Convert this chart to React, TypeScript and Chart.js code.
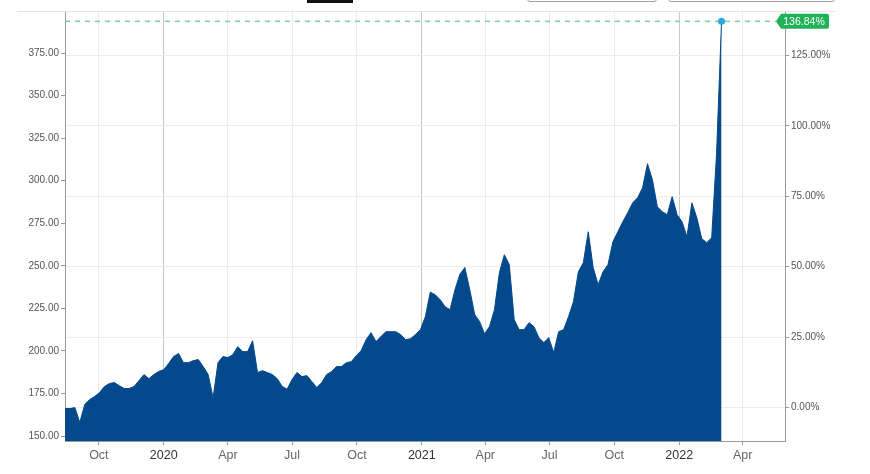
import React, { useEffect, useRef } from "react";
import { Chart, registerables } from "chart.js";

Chart.register(...registerables);

// Weekly closes, first week starting 2019-08-14
const weekStart = "2019-08-14";
const weeklyCloses: number[] = [
  166.2, 166.1, 166.7, 158.0, 168.5, 171.4, 173.2, 175.5, 179.1, 180.8,
  181.4, 179.6, 177.9, 177.9, 179.1, 182.6, 186.1, 183.7, 186.1, 187.9,
  189.0, 192.6, 196.7, 198.5, 193.1, 193.1, 194.3, 194.9, 190.8, 186.1,
  172.5, 193.1, 196.7, 196.1, 197.8, 202.5, 199.6, 199.6, 206.0, 187.3,
  188.4, 187.3, 186.1, 183.7, 179.1, 177.5, 183.2, 187.3, 184.9, 185.5,
  182.0, 178.5, 181.4, 186.1, 187.9, 190.8, 190.8, 193.1, 193.7, 197.2,
  200.2, 206.6, 210.7, 205.5, 208.4, 211.3, 211.3, 211.3, 209.6, 206.6,
  207.2, 209.6, 212.5, 220.1, 234.5, 233.0, 230.1, 226.0, 224.2, 236.0,
  245.0, 249.0, 236.0, 221.3, 217.2, 210.0, 214.3, 224.2, 246.0, 256.5,
  250.7, 218.4, 212.5, 212.5, 216.6, 214.3, 207.8, 204.9, 207.8, 199.0,
  211.3, 212.5, 220.1, 228.9, 246.5, 251.8, 270.0, 248.9, 238.9, 246.5,
  250.7, 264.2, 270.0, 275.9, 281.2, 287.0, 290.0, 295.8, 310.0, 300.5,
  284.7, 281.8, 280.0, 290.6, 280.0, 275.9, 267.1, 287.0, 278.2, 265.9,
  263.6, 266.5, 316.4, 393.63,
];

const xAxisStart = "2019-08-14";
const xAxisEnd = "2022-05-31";
const tickDates = [
  "2019-10-01", "2020-01-01", "2020-04-01", "2020-07-01", "2020-10-01",
  "2021-01-01", "2021-04-01", "2021-07-01", "2021-10-01", "2022-01-01",
  "2022-04-01",
];
const tickLabels = ["Oct", "2020", "Apr", "Jul", "Oct", "2021", "Apr", "Jul", "Oct", "2022", "Apr"];
const yearLabels = ["2020", "2021", "2022"];

const priceMin = 147.07;
const priceMax = 399.7;
const pctMin = -11.9;
const pctMax = 140.8;

const DAY = 86400000;
const dayOf = (s: string) => (Date.parse(s) - Date.parse(xAxisStart)) / DAY;

const FONT = '"Liberation Sans", Arial, Helvetica, sans-serif';

export default function App() {
  const ref = useRef<HTMLCanvasElement | null>(null);

  useEffect(() => {
    if (!ref.current) return;
    const startOffset = dayOf(weekStart);
    const points = weeklyCloses.map((v, i) => ({ x: startOffset + i * 7, y: v }));
    const tickValues = tickDates.map(dayOf);
    const labelFor = (v: number) => {
      const idx = tickValues.findIndex((t) => Math.abs(t - v) < 1e-6);
      return idx >= 0 ? tickLabels[idx] : "";
    };
    const isYear = (v: number) => yearLabels.includes(labelFor(v));
    const pct = (weeklyCloses[weeklyCloses.length - 1] / weeklyCloses[0] - 1) * 100;

    const lastMarker = {
      id: "lastMarker",
      beforeDatasetsDraw(chart: any) {
        const meta = chart.getDatasetMeta(0);
        const last = meta.data[meta.data.length - 1];
        const { ctx, chartArea } = chart;
        ctx.save();
        ctx.setLineDash([5, 5]);
        ctx.strokeStyle = "#86d0a0";
        ctx.lineWidth = 1.6;
        ctx.beginPath();
        ctx.moveTo(chartArea.left, last.y);
        ctx.lineTo(chartArea.right - 9, last.y);
        ctx.stroke();
        ctx.restore();
      },
      afterDatasetsDraw(chart: any) {
        const meta = chart.getDatasetMeta(0);
        const last = meta.data[meta.data.length - 1];
        const { ctx, chartArea } = chart;
        ctx.save();
        ctx.fillStyle = "#2aa8e0";
        ctx.beginPath();
        ctx.arc(last.x, last.y, 3.5, 0, Math.PI * 2);
        ctx.fill();
        // label
        const tipX = chartArea.right - 9;
        const boxL = tipX + 5;
        const boxR = boxL + 48;
        const top = last.y - 7.5;
        const bot = last.y + 7.5;
        const r = 2;
        ctx.fillStyle = "#1fb257";
        ctx.beginPath();
        ctx.moveTo(tipX, last.y);
        ctx.lineTo(boxL, top);
        ctx.lineTo(boxR - r, top);
        ctx.quadraticCurveTo(boxR, top, boxR, top + r);
        ctx.lineTo(boxR, bot - r);
        ctx.quadraticCurveTo(boxR, bot, boxR - r, bot);
        ctx.lineTo(boxL, bot);
        ctx.closePath();
        ctx.fill();
        ctx.fillStyle = "#ffffff";
        ctx.font = `10.5px ${FONT}`;
        ctx.textAlign = "center";
        ctx.textBaseline = "middle";
        ctx.fillText(pct.toFixed(2) + "%", (boxL + boxR) / 2 - 1, last.y + 0.5);
        ctx.restore();
      },
    };

    const keep25 = (scale: any) => {
      scale.ticks = scale.ticks.filter(
        (t: any) => Math.abs(t.value / 25 - Math.round(t.value / 25)) < 1e-6
      );
    };

    const chart = new Chart(ref.current, {
      type: "line",
      data: {
        datasets: [
          {
            data: points,
            fill: "start",
            backgroundColor: "#03498b",
            borderColor: "#03498b",
            borderWidth: 1,
            pointRadius: 0,
            tension: 0,
            yAxisID: "y",
          },
        ],
      },
      options: {
        responsive: false,
        animation: false,
        devicePixelRatio: 1,
        layout: { padding: { top: 11, left: 0, right: 0, bottom: 0 } },
        plugins: { legend: { display: false }, tooltip: { enabled: false } },
        scales: {
          x: {
            type: "linear",
            min: 0,
            max: dayOf(xAxisEnd),
            afterBuildTicks: (scale: any) => {
              scale.ticks = tickValues.map((v) => ({ value: v }));
            },
            afterFit: (scale: any) => {
              scale.height = 33;
            },
            grid: {
              color: (c: any) => (c.tick && isYear(c.tick.value) ? "#c8c8c8" : "#ececec"),
              tickColor: "#9a9a9a",
              tickLength: 4,
            },
            border: { color: "#9a9a9a" },
            ticks: {
              callback: (v: any) => labelFor(Number(v)),
              color: (c: any) => (c.tick && isYear(c.tick.value) ? "#333333" : "#666666"),
              font: { size: 12.5, family: FONT },
              padding: 3,
              maxRotation: 0,
              autoSkip: false,
            },
          },
          y: {
            position: "left",
            min: priceMin,
            max: priceMax,
            afterBuildTicks: keep25,
            afterFit: (scale: any) => {
              scale.width = 65;
            },
            grid: { drawOnChartArea: false, tickColor: "#9a9a9a", tickLength: 4 },
            border: { color: "#9a9a9a" },
            ticks: {
              stepSize: 25,
              includeBounds: false,
              callback: (v: any) => Number(v).toFixed(2),
              color: "#555555",
              font: { size: 10, family: FONT },
              padding: 2,
            },
          },
          y2: {
            position: "right",
            min: pctMin,
            max: pctMax,
            afterBuildTicks: keep25,
            afterFit: (scale: any) => {
              scale.width = 85;
            },
            grid: { color: "#ececec", tickColor: "#9a9a9a", tickLength: 4 },
            border: { color: "#9a9a9a" },
            ticks: {
              stepSize: 25,
              includeBounds: false,
              callback: (v: any) => Number(v).toFixed(2) + "%",
              color: "#555555",
              font: { size: 10, family: FONT },
              padding: 2,
            },
          },
        },
      },
      plugins: [lastMarker],
    } as any);

    return () => chart.destroy();
  }, []);

  return (
    <div
      style={{
        position: "absolute",
        left: 0,
        top: 0,
        width: 870,
        height: 474,
        background: "#ffffff",
        overflow: "hidden",
      }}
    >
      <canvas ref={ref} width={870} height={474} style={{ display: "block" }} />
      <div style={{ position: "absolute", left: 17, top: 11, width: 818, height: 1, background: "#e6e6e6" }} />
      <div style={{ position: "absolute", left: 307, top: 0, width: 46, height: 3, background: "#111111" }} />
      <div
        style={{
          position: "absolute",
          left: 527,
          top: -20,
          width: 128,
          height: 20,
          border: "1px solid #9aa3a8",
          borderRadius: 3,
        }}
      />
      <div
        style={{
          position: "absolute",
          left: 668,
          top: -20,
          width: 165,
          height: 20,
          border: "1px solid #9aa3a8",
          borderRadius: 3,
        }}
      />
    </div>
  );
}
